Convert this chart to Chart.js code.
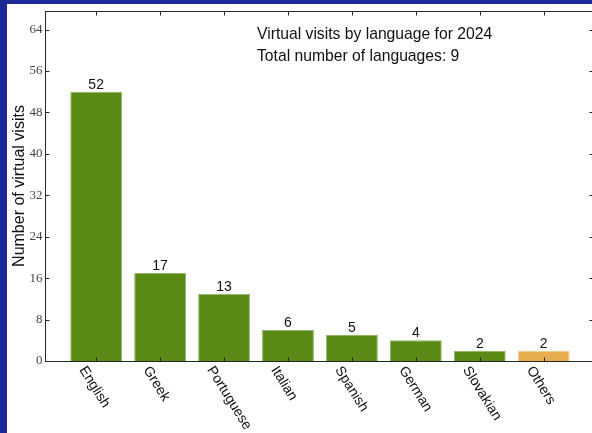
<!DOCTYPE html>
<html>
<head>
<meta charset="utf-8">
<script src="https://cdn.jsdelivr.net/npm/chart.js@4/dist/chart.umd.min.js"></script>
<style>
  html, body { margin: 0; padding: 0; overflow: hidden; }
  body { background: #1c2a98; width: 592px; height: 433px; position: relative; }
  #panel { position: absolute; left: 7px; top: 4px; width: 600px; height: 440px; background: #fff; }
  #myChart { position: absolute; left: 0; top: 0; }
</style>
</head>
<body>
<div id="panel"></div>
<canvas id="myChart" width="600" height="433"></canvas>
<script>
// datos
const idiomas = ['English', 'Greek', 'Portuguese', 'Italian', 'Spanish', 'German', 'Slovakian', 'Others']
const visitas = [52, 17, 13, 6, 5, 4, 2, 2]
const colores = ['#5a8a15', '#5a8a15', '#5a8a15', '#5a8a15', '#5a8a15', '#5a8a15', '#5a8a15', '#e8ad4f']
const bordes = ['#93b367', '#93b367', '#93b367', '#93b367', '#93b367', '#93b367', '#93b367', '#f3cf96']
const yTicks = [0, 8, 16, 24, 32, 40, 48, 56, 64]
const notas = ['Virtual visits by language for 2024', 'Total number of languages: 9']
const tituloY = 'Number of virtual visits'

const puntos = visitas.map((v, i) => ({ x: i, y: v }))

// ejes, etiquetas y textos dibujados a mano
const dibujo = {
  id: 'dibujo',
  afterDraw(chart) {
    const ctx = chart.ctx
    const a = chart.chartArea
    const sx = chart.scales.x
    const sy = chart.scales.y
    const L = Math.round(a.left) + 0.5, R = Math.round(a.right) + 0.5
    const T = Math.round(a.top) + 0.5, B = Math.round(a.bottom) + 0.5
    ctx.save()
    ctx.strokeStyle = '#262626'
    ctx.lineWidth = 1
    ctx.strokeRect(L, T, R - L, B - T)
    ctx.beginPath()
    yTicks.forEach(t => {
      const y = Math.round(sy.getPixelForValue(t)) + 0.5
      ctx.moveTo(L, y); ctx.lineTo(L + 4, y)
      ctx.moveTo(R, y); ctx.lineTo(R - 4, y)
    })
    idiomas.forEach((c, i) => {
      const x = Math.round(sx.getPixelForValue(i)) + 0.5
      ctx.moveTo(x, B); ctx.lineTo(x, B - 4)
      ctx.moveTo(x, T); ctx.lineTo(x, T + 4)
    })
    ctx.stroke()

    // etiquetas eje y
    ctx.fillStyle = '#444'
    ctx.font = '13px "Liberation Serif", serif'
    ctx.textAlign = 'right'
    ctx.textBaseline = 'middle'
    yTicks.forEach(t => ctx.fillText(String(t), L - 3, sy.getPixelForValue(t)))

    // titulo eje y
    ctx.fillStyle = '#111'
    ctx.font = '16px "Liberation Sans", Arial, sans-serif'
    ctx.save()
    ctx.translate(20, (a.top + a.bottom) / 2)
    ctx.rotate(-Math.PI / 2)
    ctx.textAlign = 'center'
    ctx.textBaseline = 'middle'
    ctx.fillText(tituloY, 0, 0)
    ctx.restore()

    // etiquetas eje x rotadas
    ctx.font = '14px "Liberation Sans", Arial, sans-serif'
    idiomas.forEach((c, i) => {
      const x = sx.getPixelForValue(i)
      ctx.save()
      ctx.translate(x - 8, a.bottom + 3)
      ctx.rotate(58 * Math.PI / 180)
      ctx.textAlign = 'left'
      ctx.textBaseline = 'top'
      ctx.fillText(c, 0, 0)
      ctx.restore()
    })

    // valores sobre las barras
    const meta = chart.getDatasetMeta(0)
    ctx.font = '14px "Liberation Sans", Arial, sans-serif'
    ctx.textAlign = 'center'
    ctx.textBaseline = 'alphabetic'
    meta.data.forEach((bar, i) => ctx.fillText(String(visitas[i]), bar.x, bar.y - 3))

    // notas
    ctx.font = '15.7px "Liberation Sans", Arial, sans-serif'
    ctx.textAlign = 'left'
    ctx.textBaseline = 'middle'
    notas.forEach((n, i) => ctx.fillText(n, 257, 35 + i * 22))
    ctx.restore()
  }
}

new Chart(document.getElementById('myChart'), {
  type: 'bar',
  data: {
    datasets: [{
      data: puntos,
      backgroundColor: colores,
      borderColor: bordes,
      borderWidth: 1,
      barPercentage: 0.81,
      categoryPercentage: 1
    }]
  },
  options: {
    responsive: false,
    animation: false,
    layout: { padding: { left: 45, top: 11, right: 7, bottom: 72 } },
    plugins: { legend: { display: false }, tooltip: { enabled: false } },
    scales: {
      x: {
        type: 'linear', min: -0.8, max: 7.77, offset: false, display: false,
        afterBuildTicks: axis => { axis.ticks = idiomas.map((c, i) => ({ value: i })) }
      },
      y: { min: 0, max: 67.6, display: false }
    }
  },
  plugins: [dibujo]
})
</script>
</body>
</html>
